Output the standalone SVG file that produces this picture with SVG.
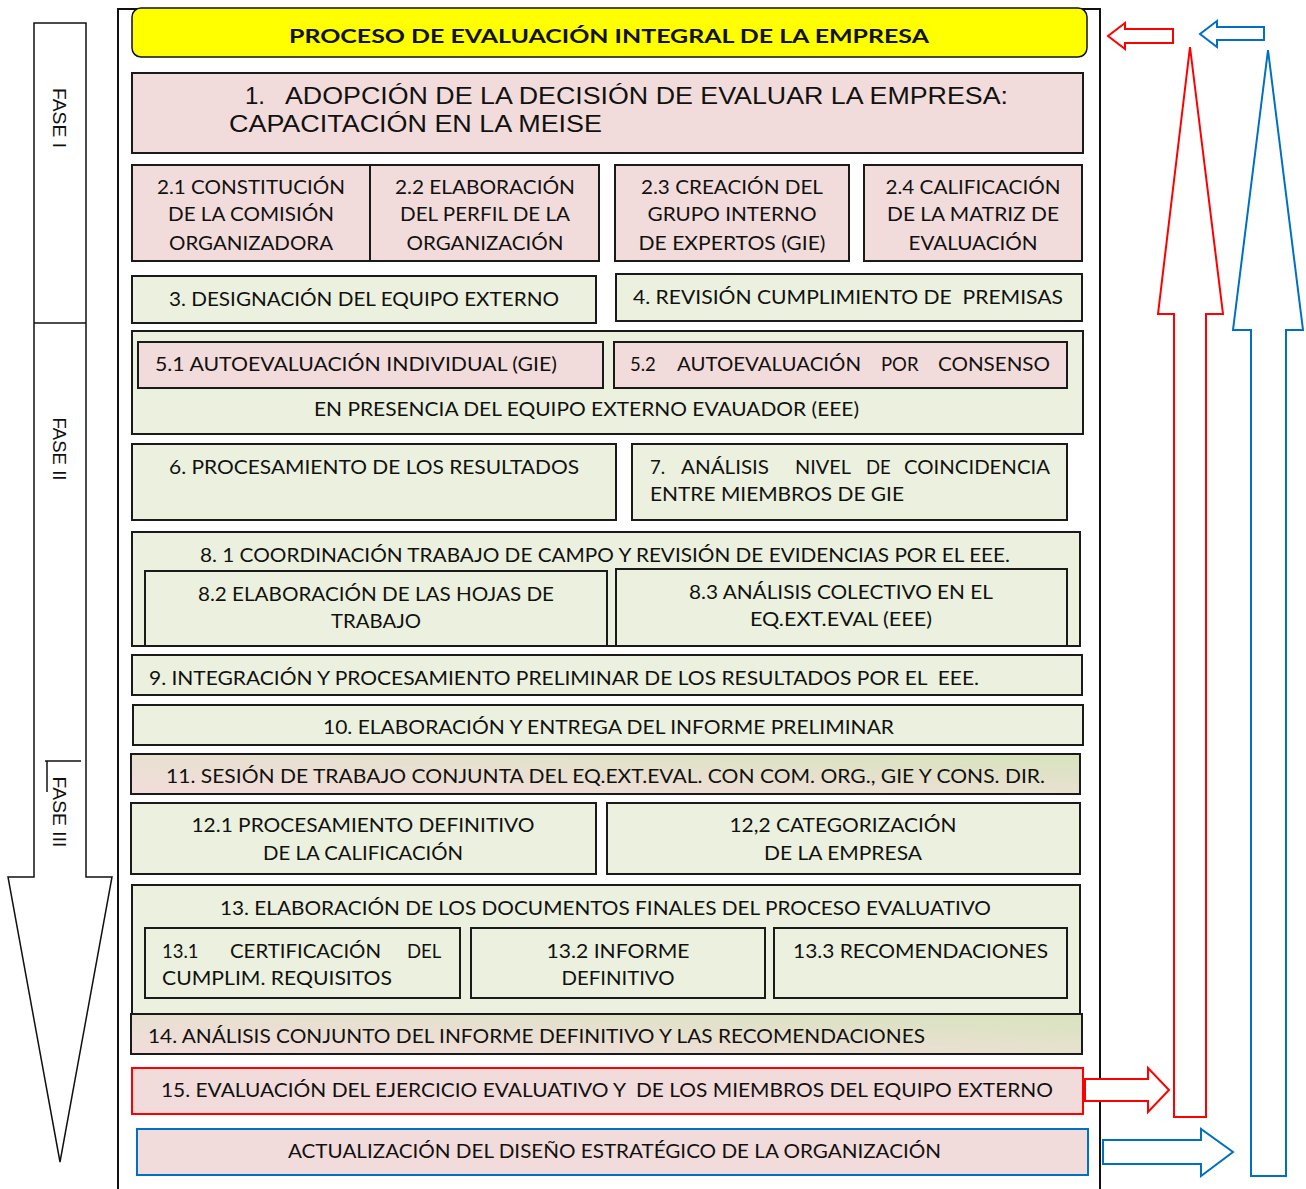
<svg xmlns="http://www.w3.org/2000/svg" width="1306" height="1189" viewBox="0 0 1306 1189">
<style>
.box{stroke:#1a1a1a;stroke-width:2}
.pink{fill:#f2dcdb}
.green{fill:#ebf1de}
.t{font-family:Lato,"Liberation Sans",sans-serif;font-size:18.5px;fill:#111}
.c{text-anchor:middle}
.a{font-family:"Liberation Sans",Arial,sans-serif;font-size:24px;fill:#111}
.f{font-family:"Liberation Sans",Arial,sans-serif;font-size:18px;fill:#111}
.red{fill:#fff;stroke:#ff0000;stroke-width:2}
.blue{fill:#fff;stroke:#0070c0;stroke-width:2}
</style>
<defs>
<linearGradient id="gr" x1="0" y1="1" x2="1" y2="0">
<stop offset="0" stop-color="#f2dcdb"/>
<stop offset="0.5" stop-color="#e8e0d0"/>
<stop offset="1" stop-color="#d7e4bd"/>
</linearGradient>
</defs>
<rect width="1306" height="1189" fill="#fff"/>

<g id="fase-arrow">
<polygon points="34,23 86,23 86,877 112,877 60,1162 8,877 34,877" fill="#fff" stroke="#111" stroke-width="1.5"/>
<line x1="34" y1="323" x2="86" y2="323" stroke="#111" stroke-width="1.5"/>
<line x1="45" y1="761" x2="81" y2="761" stroke="#111" stroke-width="1.5"/>
<line x1="47" y1="761" x2="47" y2="792" stroke="#111" stroke-width="1.5"/>
<text class="f" transform="translate(53,118) rotate(90)" text-anchor="middle" textLength="60" lengthAdjust="spacingAndGlyphs">FASE I</text>
<text class="f" transform="translate(53,449) rotate(90)" text-anchor="middle" textLength="63" lengthAdjust="spacingAndGlyphs">FASE II</text>
<text class="f" transform="translate(53,812) rotate(90)" text-anchor="middle" textLength="71" lengthAdjust="spacingAndGlyphs">FASE III</text>
</g>

<g id="frame">
<polyline points="118,1189 118,9 1100,9 1100,1189" fill="none" stroke="#111" stroke-width="2"/>
</g>

<g id="title">
<rect x="132" y="8" width="955" height="49" rx="9" fill="#ffff00" stroke="#111" stroke-width="1.5"/>
<text class="t c" x="609" y="43" font-weight="700" font-size="20" textLength="640" lengthAdjust="spacingAndGlyphs">PROCESO DE EVALUACIÓN INTEGRAL DE LA EMPRESA</text>
</g>

<g id="n1">
<rect class="box pink" x="132" y="73" width="951" height="80"/>
<text class="a" x="245" y="104" textLength="20" lengthAdjust="spacingAndGlyphs">1.</text>
<text class="a" x="285" y="104" textLength="723" lengthAdjust="spacingAndGlyphs">ADOPCIÓN DE LA DECISIÓN DE EVALUAR LA EMPRESA:</text>
<text class="a" x="229" y="132" textLength="373" lengthAdjust="spacingAndGlyphs">CAPACITACIÓN EN LA MEISE</text>
</g>

<g id="n2-1">
<rect class="box pink" x="132" y="165" width="238" height="96"/>
<text class="t c" x="251" y="194" textLength="188" lengthAdjust="spacingAndGlyphs">2.1 CONSTITUCIÓN</text>
<text class="t c" x="251" y="221" textLength="166" lengthAdjust="spacingAndGlyphs">DE LA COMISIÓN</text>
<text class="t c" x="251" y="250" textLength="164" lengthAdjust="spacingAndGlyphs">ORGANIZADORA</text>
</g>
<g id="n2-2">
<rect class="box pink" x="370" y="165" width="229" height="96"/>
<text class="t c" x="485" y="194" textLength="180" lengthAdjust="spacingAndGlyphs">2.2 ELABORACIÓN</text>
<text class="t c" x="485" y="221" textLength="170" lengthAdjust="spacingAndGlyphs">DEL PERFIL DE LA</text>
<text class="t c" x="485" y="250" textLength="157" lengthAdjust="spacingAndGlyphs">ORGANIZACIÓN</text>
</g>
<g id="n2-3">
<rect class="box pink" x="615" y="165" width="234" height="96"/>
<text class="t c" x="732" y="194" textLength="182" lengthAdjust="spacingAndGlyphs">2.3 CREACIÓN DEL</text>
<text class="t c" x="732" y="221" textLength="169" lengthAdjust="spacingAndGlyphs">GRUPO INTERNO</text>
<text class="t c" x="732" y="250" textLength="187" lengthAdjust="spacingAndGlyphs">DE EXPERTOS (GIE)</text>
</g>
<g id="n2-4">
<rect class="box pink" x="864" y="165" width="218" height="96"/>
<text class="t c" x="973" y="194" textLength="175" lengthAdjust="spacingAndGlyphs">2.4 CALIFICACIÓN</text>
<text class="t c" x="973" y="221" textLength="172" lengthAdjust="spacingAndGlyphs">DE LA MATRIZ DE</text>
<text class="t c" x="973" y="250" textLength="129" lengthAdjust="spacingAndGlyphs">EVALUACIÓN</text>
</g>

<g id="n3">
<rect class="box green" x="132" y="276" width="464" height="47"/>
<text class="t" x="169" y="306" textLength="390" lengthAdjust="spacingAndGlyphs">3. DESIGNACIÓN DEL EQUIPO EXTERNO</text>
</g>
<g id="n4">
<rect class="box green" x="616" y="274" width="466" height="47"/>
<text class="t" x="633" y="304" textLength="430" lengthAdjust="spacingAndGlyphs" xml:space="preserve">4. REVISIÓN CUMPLIMIENTO DE  PREMISAS</text>
</g>

<g id="n5">
<rect class="box green" x="132" y="331" width="951" height="103"/>
<rect class="box pink" x="138" y="342" width="465" height="46"/>
<text class="t" x="155" y="371" textLength="402" lengthAdjust="spacingAndGlyphs">5.1 AUTOEVALUACIÓN INDIVIDUAL (GIE)</text>
<rect class="box pink" x="614" y="342" width="453" height="46"/>
<text class="t" y="371"><tspan x="630">5.2</tspan><tspan x="677" textLength="184" lengthAdjust="spacingAndGlyphs">AUTOEVALUACIÓN</tspan><tspan x="881">POR</tspan><tspan x="938" textLength="112" lengthAdjust="spacingAndGlyphs">CONSENSO</tspan></text>
<text class="t" x="314" y="416" textLength="545" lengthAdjust="spacingAndGlyphs">EN PRESENCIA DEL EQUIPO EXTERNO EVAUADOR (EEE)</text>
</g>

<g id="n6">
<rect class="box green" x="132" y="444" width="484" height="76"/>
<text class="t" x="169" y="474" textLength="410" lengthAdjust="spacingAndGlyphs">6. PROCESAMIENTO DE LOS RESULTADOS</text>
</g>
<g id="n7">
<rect class="box green" x="632" y="444" width="435" height="76"/>
<text class="t" y="474"><tspan x="650">7.</tspan><tspan x="681" textLength="88" lengthAdjust="spacingAndGlyphs">ANÁLISIS</tspan><tspan x="795" textLength="56" lengthAdjust="spacingAndGlyphs">NIVEL</tspan><tspan x="866">DE</tspan><tspan x="904" textLength="146" lengthAdjust="spacingAndGlyphs">COINCIDENCIA</tspan></text>
<text class="t" x="650" y="501" textLength="254" lengthAdjust="spacingAndGlyphs">ENTRE MIEMBROS DE GIE</text>
</g>

<g id="n8">
<rect class="box green" x="132" y="532" width="948" height="114"/>
<text class="t" x="200" y="562" textLength="810" lengthAdjust="spacingAndGlyphs">8. 1 COORDINACIÓN TRABAJO DE CAMPO Y REVISIÓN DE EVIDENCIAS POR EL EEE.</text>
<rect class="box green" x="145" y="571" width="462" height="75"/>
<text class="t c" x="376" y="601" textLength="356" lengthAdjust="spacingAndGlyphs">8.2 ELABORACIÓN DE LAS HOJAS DE</text>
<text class="t c" x="376" y="628" textLength="90" lengthAdjust="spacingAndGlyphs">TRABAJO</text>
<rect class="box green" x="616" y="569" width="451" height="77"/>
<text class="t c" x="841" y="599" textLength="304" lengthAdjust="spacingAndGlyphs">8.3 ANÁLISIS COLECTIVO EN EL</text>
<text class="t c" x="841" y="626" textLength="182" lengthAdjust="spacingAndGlyphs">EQ.EXT.EVAL (EEE)</text>
</g>

<g id="n9">
<rect class="box green" x="132" y="655" width="950" height="40"/>
<text class="t" x="149" y="685" textLength="830" lengthAdjust="spacingAndGlyphs" xml:space="preserve">9. INTEGRACIÓN Y PROCESAMIENTO PRELIMINAR DE LOS RESULTADOS POR EL  EEE.</text>
</g>
<g id="n10">
<rect class="box green" x="133" y="705" width="950" height="40"/>
<text class="t" x="323" y="734" textLength="571" lengthAdjust="spacingAndGlyphs">10. ELABORACIÓN Y ENTREGA DEL INFORME PRELIMINAR</text>
</g>
<g id="n11">
<rect class="box" x="131" y="754" width="949" height="40" fill="url(#gr)"/>
<text class="t" x="166" y="783" textLength="879" lengthAdjust="spacingAndGlyphs">11. SESIÓN DE TRABAJO CONJUNTA DEL EQ.EXT.EVAL. CON COM. ORG., GIE Y CONS. DIR.</text>
</g>

<g id="n12-1">
<rect class="box green" x="131" y="803" width="465" height="71"/>
<text class="t c" x="363" y="832" textLength="343" lengthAdjust="spacingAndGlyphs">12.1 PROCESAMIENTO DEFINITIVO</text>
<text class="t c" x="363" y="860" textLength="200" lengthAdjust="spacingAndGlyphs">DE LA CALIFICACIÓN</text>
</g>
<g id="n12-2">
<rect class="box green" x="607" y="803" width="473" height="71"/>
<text class="t c" x="843" y="832" textLength="227" lengthAdjust="spacingAndGlyphs">12,2 CATEGORIZACIÓN</text>
<text class="t c" x="843" y="860" textLength="158" lengthAdjust="spacingAndGlyphs">DE LA EMPRESA</text>
</g>

<g id="n13">
<rect class="box green" x="132" y="885" width="948" height="130"/>
<text class="t" x="220" y="915" textLength="771" lengthAdjust="spacingAndGlyphs">13. ELABORACIÓN DE LOS DOCUMENTOS FINALES DEL PROCESO EVALUATIVO</text>
<rect class="box green" x="145" y="928" width="315" height="70"/>
<text class="t" y="958"><tspan x="162">13.1</tspan><tspan x="230" textLength="151" lengthAdjust="spacingAndGlyphs">CERTIFICACIÓN</tspan><tspan x="407">DEL</tspan></text>
<text class="t" x="162" y="985" textLength="230" lengthAdjust="spacingAndGlyphs">CUMPLIM. REQUISITOS</text>
<rect class="box green" x="471" y="928" width="294" height="70"/>
<text class="t c" x="618" y="958" textLength="143" lengthAdjust="spacingAndGlyphs">13.2 INFORME</text>
<text class="t c" x="618" y="985" textLength="113" lengthAdjust="spacingAndGlyphs">DEFINITIVO</text>
<rect class="box green" x="774" y="928" width="293" height="70"/>
<text class="t" x="793" y="958" textLength="255" lengthAdjust="spacingAndGlyphs">13.3 RECOMENDACIONES</text>
</g>

<g id="n14">
<rect class="box" x="131" y="1014" width="951" height="40" fill="url(#gr)"/>
<text class="t" x="148" y="1043" textLength="777" lengthAdjust="spacingAndGlyphs">14. ANÁLISIS CONJUNTO DEL INFORME DEFINITIVO Y LAS RECOMENDACIONES</text>
</g>

<g id="n15">
<rect class="pink" x="132" y="1068" width="951" height="46" stroke="#ff0000" stroke-width="2"/>
<text class="t" x="161" y="1097" textLength="892" lengthAdjust="spacingAndGlyphs" xml:space="preserve">15. EVALUACIÓN DEL EJERCICIO EVALUATIVO Y  DE LOS MIEMBROS DEL EQUIPO EXTERNO</text>
</g>

<g id="n16">
<rect class="pink" x="137" y="1129" width="951" height="46" stroke="#0070c0" stroke-width="2"/>
<text class="t" x="288" y="1158" textLength="653" lengthAdjust="spacingAndGlyphs">ACTUALIZACIÓN DEL DISEÑO ESTRATÉGICO DE LA ORGANIZACIÓN</text>
</g>

<g id="connectors">
<polygon class="red" points="1174,1117 1174,314 1158,314 1190,47 1223,314 1206,314 1206,1117"/>
<polygon class="blue" points="1251,1176 1251,330 1233,330 1268,50 1303,330 1286,330 1286,1176"/>
<polygon class="red" points="1173,29 1125,29 1125,23 1108,36 1125,49 1125,43 1173,43"/>
<polygon class="blue" points="1264,27 1217,27 1217,21 1200,34 1217,47 1217,40 1264,40"/>
<polygon class="red" points="1085,1079 1148,1079 1148,1068 1169,1090 1148,1112 1148,1101 1085,1101"/>
<polygon class="blue" points="1103,1140 1201,1140 1201,1129 1233,1152 1201,1176 1201,1164 1103,1164"/>
</g>
</svg>
